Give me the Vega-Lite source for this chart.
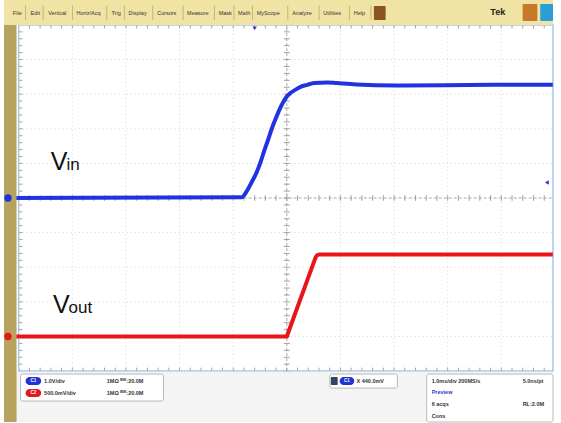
{
 "$schema": "https://vega.github.io/schema/vega-lite/v6.json",
 "width": 561, "height": 423, "padding": 0,
 "autosize": {"type": "fit", "contains": "padding"},
 "background": "white",
 "config": {"view": {"stroke": null}, "font": "Liberation Sans"},
 "resolve": {"scale": {"fill": "independent", "color": "independent", "shape": "independent"}},
 "datasets": {
  "steps": [{"v":-5},{"v":-4.8},{"v":-4.6},{"v":-4.4},{"v":-4.2},{"v":-4},{"v":-3.8},{"v":-3.6},{"v":-3.4},{"v":-3.2},{"v":-3},{"v":-2.8},{"v":-2.6},{"v":-2.4},{"v":-2.2},{"v":-2},{"v":-1.8},{"v":-1.6},{"v":-1.4},{"v":-1.2},{"v":-1},{"v":-0.8},{"v":-0.6},{"v":-0.4},{"v":-0.2},{"v":0},{"v":0.2},{"v":0.4},{"v":0.6},{"v":0.8},{"v":1},{"v":1.2},{"v":1.4},{"v":1.6},{"v":1.8},{"v":2},{"v":2.2},{"v":2.4},{"v":2.6},{"v":2.8},{"v":3},{"v":3.2},{"v":3.4},{"v":3.6},{"v":3.8},{"v":4},{"v":4.2},{"v":4.4},{"v":4.6},{"v":4.8}],
  "grid": [{"v":-4},{"v":-3},{"v":-2},{"v":-1},{"v":1},{"v":2},{"v":3},{"v":4}],
  "seps": [{"v":-4.872},{"v":-4.544},{"v":-3.996},{"v":-3.358},{"v":-3.029},{"v":-2.5},{"v":-1.934},{"v":-1.35},{"v":-0.985},{"v":-0.639},{"v":0.018},{"v":0.602},{"v":1.168},{"v":1.569}],
  "vin": [
   {"t":-5.2,"y":0},{"t":-0.84,"y":0.02},{"t":-0.75,"y":0.19},{"t":-0.657,"y":0.45},{"t":-0.566,"y":0.73},{"t":-0.493,"y":1.02},{"t":-0.42,"y":1.37},{"t":-0.347,"y":1.69},{"t":-0.274,"y":2.03},{"t":-0.2,"y":2.32},{"t":-0.128,"y":2.58},{"t":-0.073,"y":2.75},{"t":0,"y":2.93},{"t":0.073,"y":3.04},{"t":0.164,"y":3.13},{"t":0.255,"y":3.21},{"t":0.383,"y":3.27},{"t":0.51,"y":3.32},{"t":0.748,"y":3.34},{"t":0.93,"y":3.32},{"t":1.296,"y":3.28},{"t":2.026,"y":3.25},{"t":2.94,"y":3.26},{"t":3.85,"y":3.27},{"t":4.96,"y":3.27}
  ],
  "vout": [
   {"t":-5.2,"y":-4.0},{"t":0,"y":-4.0},{"t":0.535,"y":-1.72},{"t":0.565,"y":-1.65},{"t":0.61,"y":-1.63},{"t":4.96,"y":-1.63}
  ]
 },
 "layer": [
  {"data": {"name": "grid"}, "mark": {"type": "rule", "color": "#d4d4d4", "strokeDash": [1, 3], "strokeWidth": 1},
   "encoding": {"x": {"field": "v", "type": "quantitative", "scale": {"domain": [-5.274, 4.964], "nice": false, "zero": false}, "axis": null},
                "y": {"datum": -5, "scale": {"domain": [-6.47, 5.72], "nice": false, "zero": false}, "axis": null}, "y2": {"datum": 5}}},
  {"data": {"name": "grid"}, "mark": {"type": "rule", "color": "#d4d4d4", "strokeDash": [1, 3], "strokeWidth": 1},
   "encoding": {"y": {"field": "v", "type": "quantitative", "scale": {"domain": [-6.47, 5.72], "nice": false, "zero": false}, "axis": null},
                "x": {"datum": -5, "scale": {"domain": [-5.274, 4.964], "nice": false, "zero": false}, "axis": null}, "x2": {"datum": 4.964}}},
  {"data": {"values": [{"a": 0}]}, "mark": {"type": "rule", "color": "#a8a8a8", "strokeDash": [3, 2], "strokeWidth": 1},
   "encoding": {"x": {"field": "a", "type": "quantitative", "scale": {"domain": [-5.274, 4.964], "nice": false, "zero": false}, "axis": null},
                "y": {"datum": -5, "scale": {"domain": [-6.47, 5.72], "nice": false, "zero": false}, "axis": null}, "y2": {"datum": 5}}},
  {"data": {"values": [{"a": 0}]}, "mark": {"type": "rule", "color": "#a8a8a8", "strokeDash": [3, 2], "strokeWidth": 1},
   "encoding": {"y": {"field": "a", "type": "quantitative", "scale": {"domain": [-6.47, 5.72], "nice": false, "zero": false}, "axis": null},
                "x": {"datum": -5, "scale": {"domain": [-5.274, 4.964], "nice": false, "zero": false}, "axis": null}, "x2": {"datum": 4.964}}},
  {"data": {"name": "steps"}, "mark": {"type": "rule", "color": "#a0a0a0", "strokeWidth": 1},
   "encoding": {"x": {"field": "v", "type": "quantitative", "scale": {"domain": [-5.274, 4.964], "nice": false, "zero": false}, "axis": null},
                "y": {"datum": -0.08, "scale": {"domain": [-6.47, 5.72], "nice": false, "zero": false}, "axis": null}, "y2": {"datum": 0.08}}},
  {"data": {"name": "steps"}, "mark": {"type": "rule", "color": "#a0a0a0", "strokeWidth": 1},
   "encoding": {"y": {"field": "v", "type": "quantitative", "scale": {"domain": [-6.47, 5.72], "nice": false, "zero": false}, "axis": null},
                "x": {"datum": -0.055, "scale": {"domain": [-5.274, 4.964], "nice": false, "zero": false}, "axis": null}, "x2": {"datum": 0.055}}},
  {"data": {"name": "steps"}, "mark": {"type": "rule", "color": "#a0a0a0", "strokeWidth": 1},
   "encoding": {"x": {"field": "v", "type": "quantitative", "scale": {"domain": [-5.274, 4.964], "nice": false, "zero": false}, "axis": null},
                "y": {"datum": 4.9, "scale": {"domain": [-6.47, 5.72], "nice": false, "zero": false}, "axis": null}, "y2": {"datum": 5}}},
  {"data": {"name": "steps"}, "mark": {"type": "rule", "color": "#a0a0a0", "strokeWidth": 1},
   "encoding": {"x": {"field": "v", "type": "quantitative", "scale": {"domain": [-5.274, 4.964], "nice": false, "zero": false}, "axis": null},
                "y": {"datum": -5, "scale": {"domain": [-6.47, 5.72], "nice": false, "zero": false}, "axis": null}, "y2": {"datum": -4.9}}},
  {"data": {"name": "steps"}, "mark": {"type": "rule", "color": "#a0a0a0", "strokeWidth": 1},
   "encoding": {"y": {"field": "v", "type": "quantitative", "scale": {"domain": [-6.47, 5.72], "nice": false, "zero": false}, "axis": null},
                "x": {"datum": -5, "scale": {"domain": [-5.274, 4.964], "nice": false, "zero": false}, "axis": null}, "x2": {"datum": -4.93}}},
  {"data": {"values": [{"x1": -5, "x2": 4.964, "y1": -5, "y2": 5}]}, "mark": {"type": "rect", "fill": null, "fillOpacity": 0, "stroke": "#a9c6e8", "strokeWidth": 1.5},
   "encoding": {"x": {"field": "x1", "type": "quantitative", "scale": {"domain": [-5.274, 4.964], "nice": false, "zero": false}, "axis": null}, "x2": {"field": "x2"},
                "y": {"field": "y1", "type": "quantitative", "scale": {"domain": [-6.47, 5.72], "nice": false, "zero": false}, "axis": null}, "y2": {"field": "y2"}}},
  {"data": {"name": "vin"}, "mark": {"type": "line", "color": "#1f33e0", "strokeWidth": 4, "interpolate": "monotone"},
   "encoding": {"x": {"field": "t", "type": "quantitative", "scale": {"domain": [-5.274, 4.964], "nice": false, "zero": false}, "axis": null},
                "y": {"field": "y", "type": "quantitative", "scale": {"domain": [-6.47, 5.72], "nice": false, "zero": false}, "axis": null}}},
  {"data": {"name": "vout"}, "mark": {"type": "line", "color": "#e8151c", "strokeWidth": 4},
   "encoding": {"x": {"field": "t", "type": "quantitative", "scale": {"domain": [-5.274, 4.964], "nice": false, "zero": false}, "axis": null},
                "y": {"field": "y", "type": "quantitative", "scale": {"domain": [-6.47, 5.72], "nice": false, "zero": false}, "axis": null}}},
  {"data": {"values": [{"x1": -5.274, "x2": 4.964, "y1": 5.0, "y2": 5.72}]},
   "mark": {"type": "rect", "fill": "#f0e3a3"},
   "encoding": {"x": {"field": "x1", "type": "quantitative", "scale": {"domain": [-5.274, 4.964], "nice": false, "zero": false}, "axis": null}, "x2": {"field": "x2"},
                "y": {"field": "y1", "type": "quantitative", "scale": {"domain": [-6.47, 5.72], "nice": false, "zero": false}, "axis": null}, "y2": {"field": "y2"}}},
  {"data": {"values": [{"x1": -5.274, "x2": 4.964, "y1": -6.47, "y2": -5.02}]},
   "mark": {"type": "rect", "fill": "#f4f4f4"},
   "encoding": {"x": {"field": "x1", "type": "quantitative", "scale": {"domain": [-5.274, 4.964], "nice": false, "zero": false}, "axis": null}, "x2": {"field": "x2"},
                "y": {"field": "y1", "type": "quantitative", "scale": {"domain": [-6.47, 5.72], "nice": false, "zero": false}, "axis": null}, "y2": {"field": "y2"}}},
  {"data": {"values": [{"x1": -5.274, "x2": -5.04, "y1": -6.47, "y2": 5.0}]},
   "mark": {"type": "rect", "fill": "#b6a45e"},
   "encoding": {"x": {"field": "x1", "type": "quantitative", "scale": {"domain": [-5.274, 4.964], "nice": false, "zero": false}, "axis": null}, "x2": {"field": "x2"},
                "y": {"field": "y1", "type": "quantitative", "scale": {"domain": [-6.47, 5.72], "nice": false, "zero": false}, "axis": null}, "y2": {"field": "y2"}}},
  {"data": {"name": "seps"}, "mark": {"type": "rule", "color": "#c8b674", "strokeWidth": 1},
   "encoding": {"x": {"field": "v", "type": "quantitative", "scale": {"domain": [-5.274, 4.964], "nice": false, "zero": false}, "axis": null},
                "y": {"datum": 5.14, "scale": {"domain": [-6.47, 5.72], "nice": false, "zero": false}, "axis": null}, "y2": {"datum": 5.56}}},
  {"data": {"values": [{"ch": "C1", "t": -5.2, "y": 0}, {"ch": "C2", "t": -5.2, "y": -4.0}]},
   "mark": {"type": "point", "shape": "circle", "filled": true, "size": 55, "opacity": 1},
   "encoding": {"x": {"field": "t", "type": "quantitative", "scale": {"domain": [-5.274, 4.964], "nice": false, "zero": false}, "axis": null},
                "y": {"field": "y", "type": "quantitative", "scale": {"domain": [-6.47, 5.72], "nice": false, "zero": false}, "axis": null},
                "color": {"field": "ch", "type": "nominal", "scale": {"domain": ["C1", "C2"], "range": ["#1f33e0", "#e8151c"]}, "legend": null}}},
  {"data": {"values": [{"t": 4.85, "y": 0.45, "s": "triangle-left"}, {"t": -0.6, "y": 4.9, "s": "triangle-down"}]},
   "mark": {"type": "point", "filled": true, "size": 20, "color": "#2a3ad8", "opacity": 1},
   "encoding": {"x": {"field": "t", "type": "quantitative", "scale": {"domain": [-5.274, 4.964], "nice": false, "zero": false}, "axis": null},
                "y": {"field": "y", "type": "quantitative", "scale": {"domain": [-6.47, 5.72], "nice": false, "zero": false}, "axis": null},
                "shape": {"field": "s", "type": "nominal", "scale": null}}},
  {"data": {"values": [{"txt": "V", "t": -4.4, "y": 0.82}, {"txt": "V", "t": -4.36, "y": -3.33}]},
   "mark": {"type": "text", "fontSize": 25, "align": "left", "baseline": "alphabetic", "color": "#111111", "font": "Liberation Sans"},
   "encoding": {"x": {"field": "t", "type": "quantitative", "scale": {"domain": [-5.274, 4.964], "nice": false, "zero": false}, "axis": null},
                "y": {"field": "y", "type": "quantitative", "scale": {"domain": [-6.47, 5.72], "nice": false, "zero": false}, "axis": null},
                "text": {"field": "txt"}}},
  {"data": {"values": [{"txt": "in", "t": -4.11, "y": 0.82}, {"txt": "out", "t": -4.07, "y": -3.33}]},
   "mark": {"type": "text", "fontSize": 17, "align": "left", "baseline": "alphabetic", "color": "#111111", "font": "Liberation Sans"},
   "encoding": {"x": {"field": "t", "type": "quantitative", "scale": {"domain": [-5.274, 4.964], "nice": false, "zero": false}, "axis": null},
                "y": {"field": "y", "type": "quantitative", "scale": {"domain": [-6.47, 5.72], "nice": false, "zero": false}, "axis": null},
                "text": {"field": "txt"}}},
  {"data": {"values": [
     {"txt": "File", "t": -5.109}, {"txt": "Edit", "t": -4.78}, {"txt": "Vertical", "t": -4.45}, {"txt": "Horiz/Acq", "t": -3.92},
     {"txt": "Trig", "t": -3.27}, {"txt": "Display", "t": -2.95}, {"txt": "Cursors", "t": -2.42}, {"txt": "Measure", "t": -1.86},
     {"txt": "Mask", "t": -1.27}, {"txt": "Math", "t": -0.91}, {"txt": "MyScope", "t": -0.56}, {"txt": "Analyze", "t": 0.1},
     {"txt": "Utilities", "t": 0.68}, {"txt": "Help", "t": 1.25}]},
   "mark": {"type": "text", "fontSize": 5.5, "align": "left", "baseline": "middle", "color": "#333333"},
   "encoding": {"x": {"field": "t", "type": "quantitative", "scale": {"domain": [-5.274, 4.964], "nice": false, "zero": false}, "axis": null},
                "y": {"datum": 5.346, "scale": {"domain": [-6.47, 5.72], "nice": false, "zero": false}, "axis": null},
                "text": {"field": "txt"}}},
  {"data": {"values": [{"x1": 1.624, "x2": 1.843, "y1": 5.144, "y2": 5.547}]},
   "mark": {"type": "rect", "cornerRadius": 1, "fill": "#8a5520"},
   "encoding": {"x": {"field": "x1", "type": "quantitative", "scale": {"domain": [-5.274, 4.964], "nice": false, "zero": false}, "axis": null}, "x2": {"field": "x2"},
                "y": {"field": "y1", "type": "quantitative", "scale": {"domain": [-6.47, 5.72], "nice": false, "zero": false}, "axis": null}, "y2": {"field": "y2"}}},
  {"data": {"values": [{"x1": 4.398, "x2": 4.672, "y1": 5.115, "y2": 5.605}]},
   "mark": {"type": "rect", "cornerRadius": 1, "fill": "#c8782a"},
   "encoding": {"x": {"field": "x1", "type": "quantitative", "scale": {"domain": [-5.274, 4.964], "nice": false, "zero": false}, "axis": null}, "x2": {"field": "x2"},
                "y": {"field": "y1", "type": "quantitative", "scale": {"domain": [-6.47, 5.72], "nice": false, "zero": false}, "axis": null}, "y2": {"field": "y2"}}},
  {"data": {"values": [{"x1": 4.726, "x2": 4.964, "y1": 5.115, "y2": 5.605}]},
   "mark": {"type": "rect", "cornerRadius": 1, "fill": "#2c9ed6"},
   "encoding": {"x": {"field": "x1", "type": "quantitative", "scale": {"domain": [-5.274, 4.964], "nice": false, "zero": false}, "axis": null}, "x2": {"field": "x2"},
                "y": {"field": "y1", "type": "quantitative", "scale": {"domain": [-6.47, 5.72], "nice": false, "zero": false}, "axis": null}, "y2": {"field": "y2"}}},
  {"data": {"values": [{"txt": "Tek", "t": 3.796}]},
   "mark": {"type": "text", "fontSize": 9, "fontWeight": "bold", "align": "left", "baseline": "middle", "color": "#222222"},
   "encoding": {"x": {"field": "t", "type": "quantitative", "scale": {"domain": [-5.274, 4.964], "nice": false, "zero": false}, "axis": null},
                "y": {"datum": 5.36, "scale": {"domain": [-6.47, 5.72], "nice": false, "zero": false}, "axis": null},
                "text": {"field": "txt"}}},
  {"data": {"values": [{"x1": -4.964, "x2": -2.299, "y1": -5.865, "y2": -5.086}, {"x1": 0.803, "x2": 2.062, "y1": -5.49, "y2": -5.086}, {"x1": 2.609, "x2": 4.964, "y1": -6.47, "y2": -5.086}]},
   "mark": {"type": "rect", "fill": "white", "stroke": "#b8b8b8", "strokeWidth": 1, "cornerRadius": 2},
   "encoding": {"x": {"field": "x1", "type": "quantitative", "scale": {"domain": [-5.274, 4.964], "nice": false, "zero": false}, "axis": null}, "x2": {"field": "x2"},
                "y": {"field": "y1", "type": "quantitative", "scale": {"domain": [-6.47, 5.72], "nice": false, "zero": false}, "axis": null}, "y2": {"field": "y2"}}},
  {"data": {"values": [{"x1": -4.872, "x2": -4.58, "y1": -5.403, "y2": -5.173}, {"x1": 0.985, "x2": 1.259, "y1": -5.403, "y2": -5.173}]},
   "mark": {"type": "rect", "cornerRadius": 4, "fill": "#2233d0"},
   "encoding": {"x": {"field": "x1", "type": "quantitative", "scale": {"domain": [-5.274, 4.964], "nice": false, "zero": false}, "axis": null}, "x2": {"field": "x2"},
                "y": {"field": "y1", "type": "quantitative", "scale": {"domain": [-6.47, 5.72], "nice": false, "zero": false}, "axis": null}, "y2": {"field": "y2"}}},
  {"data": {"values": [{"x1": -4.872, "x2": -4.58, "y1": -5.749, "y2": -5.519}]},
   "mark": {"type": "rect", "cornerRadius": 4, "fill": "#e01a22"},
   "encoding": {"x": {"field": "x1", "type": "quantitative", "scale": {"domain": [-5.274, 4.964], "nice": false, "zero": false}, "axis": null}, "x2": {"field": "x2"},
                "y": {"field": "y1", "type": "quantitative", "scale": {"domain": [-6.47, 5.72], "nice": false, "zero": false}, "axis": null}, "y2": {"field": "y2"}}},
  {"data": {"values": [{"x1": 0.821, "x2": 0.949, "y1": -5.403, "y2": -5.173}]},
   "mark": {"type": "rect", "cornerRadius": 1, "fill": "#334466"},
   "encoding": {"x": {"field": "x1", "type": "quantitative", "scale": {"domain": [-5.274, 4.964], "nice": false, "zero": false}, "axis": null}, "x2": {"field": "x2"},
                "y": {"field": "y1", "type": "quantitative", "scale": {"domain": [-6.47, 5.72], "nice": false, "zero": false}, "axis": null}, "y2": {"field": "y2"}}},
  {"data": {"values": [{"txt": "C1", "t": -4.726, "y": -5.288}, {"txt": "C2", "t": -4.726, "y": -5.634}, {"txt": "C1", "t": 1.122, "y": -5.288}]},
   "mark": {"type": "text", "fontSize": 4.5, "fontWeight": "bold", "align": "center", "baseline": "middle", "color": "white"},
   "encoding": {"x": {"field": "t", "type": "quantitative", "scale": {"domain": [-5.274, 4.964], "nice": false, "zero": false}, "axis": null},
                "y": {"field": "y", "type": "quantitative", "scale": {"domain": [-6.47, 5.72], "nice": false, "zero": false}, "axis": null},
                "text": {"field": "txt"}}},
  {"data": {"values": [
     {"txt": "1.0V/div", "t": -4.526, "y": -5.288}, {"txt": "1MΩ ᴮᵂ:20.0M", "t": -3.358, "y": -5.288},
     {"txt": "500.0mV/div", "t": -4.526, "y": -5.634}, {"txt": "1MΩ ᴮᵂ:20.0M", "t": -3.358, "y": -5.634},
     {"txt": "X 440.0mV", "t": 1.30, "y": -5.288},
     {"txt": "1.0ms/div  200MS/s", "t": 2.701, "y": -5.288}, {"txt": "5.0ns/pt", "t": 4.398, "y": -5.288},
     {"txt": "6 acqs", "t": 2.701, "y": -5.951}, {"txt": "RL:2.0M", "t": 4.398, "y": -5.951},
     {"txt": "Cons", "t": 2.701, "y": -6.297}]},
   "mark": {"type": "text", "fontSize": 5.5, "fontWeight": "bold", "align": "left", "baseline": "middle", "color": "#333333"},
   "encoding": {"x": {"field": "t", "type": "quantitative", "scale": {"domain": [-5.274, 4.964], "nice": false, "zero": false}, "axis": null},
                "y": {"field": "y", "type": "quantitative", "scale": {"domain": [-6.47, 5.72], "nice": false, "zero": false}, "axis": null},
                "text": {"field": "txt"}}},
  {"data": {"values": [{"txt": "Preview", "t": 2.701, "y": -5.605}]},
   "mark": {"type": "text", "fontSize": 5.5, "fontWeight": "bold", "align": "left", "baseline": "middle", "color": "#2a3ad8"},
   "encoding": {"x": {"field": "t", "type": "quantitative", "scale": {"domain": [-5.274, 4.964], "nice": false, "zero": false}, "axis": null},
                "y": {"field": "y", "type": "quantitative", "scale": {"domain": [-6.47, 5.72], "nice": false, "zero": false}, "axis": null},
                "text": {"field": "txt"}}}
 ]
}
